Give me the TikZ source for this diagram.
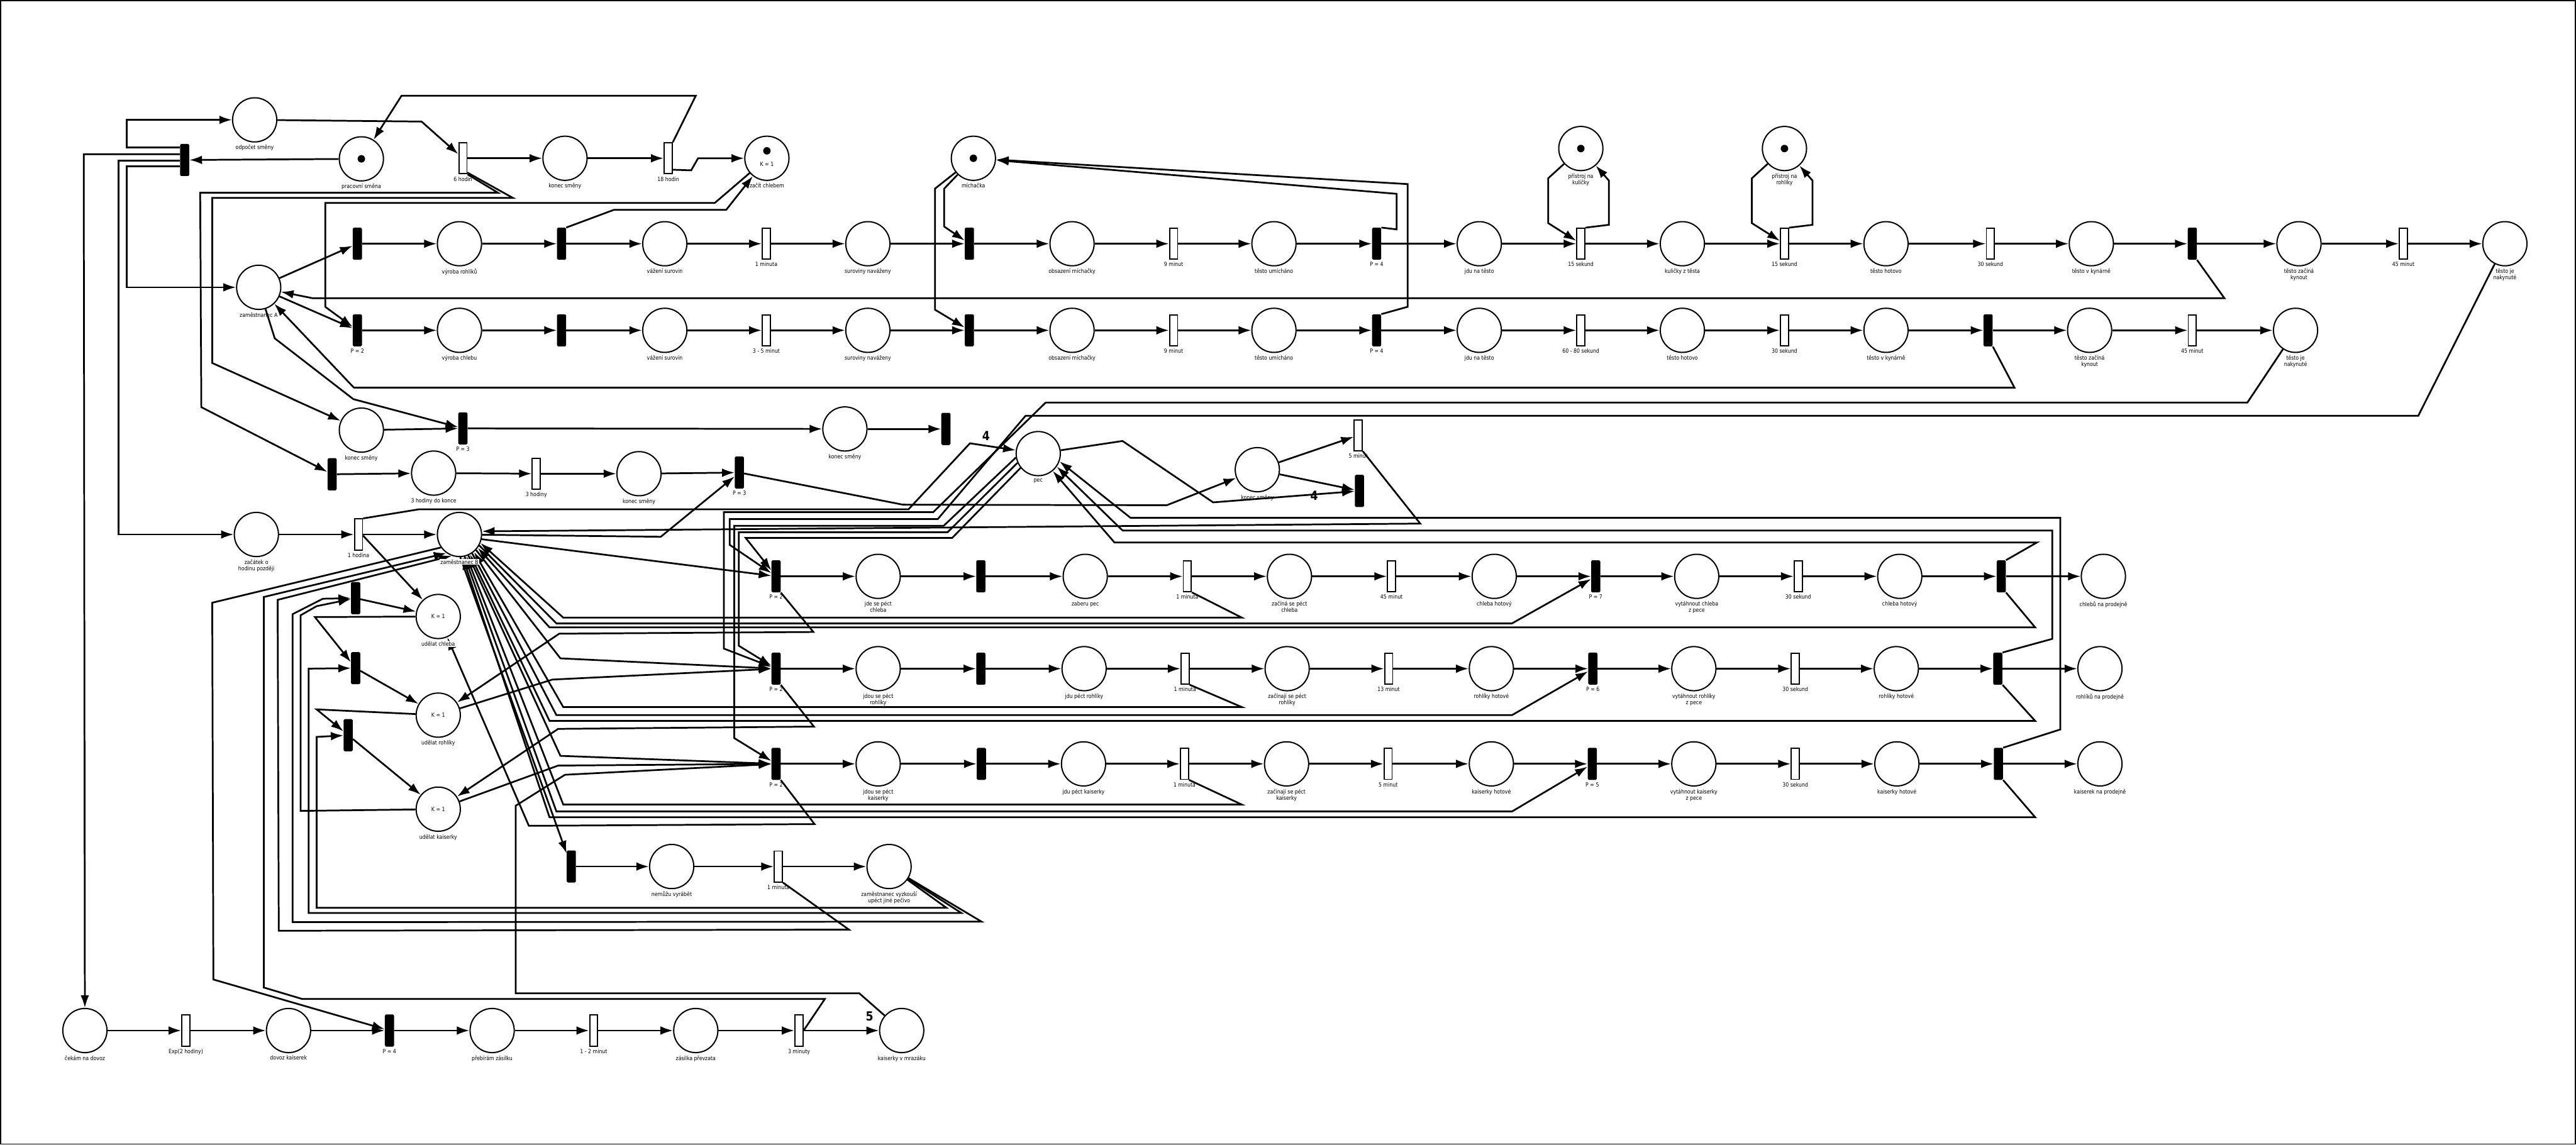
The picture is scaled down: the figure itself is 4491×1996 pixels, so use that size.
\documentclass[tikz,border=0pt]{standalone}
\usepackage{fontspec}
\setmainfont{DejaVu Sans}[FakeStretch=0.86]
\usetikzlibrary{arrows.meta,backgrounds}
\newcommand{\lbl}{\fontsize{10}{11}\selectfont}
\tikzset{
  place/.style={circle,draw,line width=2.2pt,minimum size=77pt,inner sep=0pt,font=\lbl},
  btrans/.style={rectangle,fill=black,minimum width=16pt,minimum height=56pt,inner sep=0pt,rounded corners=2pt},
  ttrans/.style={rectangle,draw,fill=white,line width=2pt,minimum width=14pt,minimum height=54pt,inner sep=0pt},
  arc/.style={line width=3pt,-{Latex[length=22pt,width=15pt]}},
  wire/.style={line width=3pt},
  lab/.style={font=\lbl,align=center,inner sep=1pt,label distance=3pt},
  wlab/.style={lab,fill=white},
  tok/.style={circle,fill=black,minimum size=13pt,inner sep=0pt},
  wt/.style={font=\fontsize{22}{22}\selectfont\bfseries}
}
\newcommand{\pl}[4]{\node[place,label={[lab]below:#4}] (#1) at (#2,#3) {};}
\newcommand{\bt}[4]{\node[btrans,label={[lab]below:#4}] (#1) at (#2,#3) {};}
\newcommand{\tmt}[4]{\node[ttrans,label={[lab]below:#4}] (#1) at (#2,#3) {};}
\begin{document}
\begin{tikzpicture}[x=1pt,y=-1pt]
  \useasboundingbox (0,0) rectangle (4491,1996);
  \draw[line width=2pt] (1,1) rectangle (4490,1995);

  % shift control
  \bt{tStart}{322}{279}{}
  \pl{pOdpocet}{444}{209}{odpočet směny}
  \pl{pPracovni}{630}{277}{pracovní směna}
  \node[tok] at (pPracovni) {};
  \tmt{t6h}{807}{276}{6 hodin}
  \pl{pKonecA}{985}{276}{konec směny}
  \tmt{t18h}{1165}{276}{18 hodin}
  \pl{pZacit}{1337}{276}{začít chlebem}
  \node[tok] at ([yshift=13pt]pZacit.center) {};
  \node[font=\lbl] at ([yshift=-10pt]pZacit.center) {K = 1};
  \pl{pMichacka}{1697}{276}{míchačka}
  \node[tok] at (pMichacka) {};
  \pl{pZamA}{451}{501}{zaměstnanec A}
  \pl{pKulicky}{2756}{259}{přístroj na\\kuličky}
  \node[tok] at (pKulicky) {};
  \pl{pRohlStroj}{3111}{259}{přístroj na\\rohlíky}
  \node[tok] at (pRohlStroj) {};

  % dough for rolls
  \bt{tR1}{623}{425}{}
  \pl{pR1}{801}{425}{výroba rohlíků}
  \bt{tR2}{979}{425}{}
  \pl{pR2}{1159}{425}{vážení surovin}
  \tmt{tR3}{1336}{425}{1 minuta}
  \pl{pR3}{1513}{425}{suroviny naváženy}
  \bt{tR4}{1690}{425}{}
  \pl{pR4}{1869}{425}{obsazení míchačky}
  \tmt{tR5}{2046}{425}{9 minut}
  \pl{pR5}{2221}{425}{těsto umícháno}
  \bt{tR6}{2400}{425}{P = 4}
  \pl{pR6}{2579}{425}{jdu na těsto}
  \tmt{tR7}{2756}{425}{15 sekund}
  \pl{pR7}{2933}{425}{kuličky z těsta}
  \tmt{tR8}{3111}{425}{15 sekund}
  \pl{pR8}{3288}{425}{těsto hotovo}
  \tmt{tR9}{3470}{425}{30 sekund}
  \pl{pR9}{3646}{425}{těsto v kynárně}
  \bt{tR10}{3822}{425}{}
  \pl{pR10}{4008}{425}{těsto začíná\\kynout}
  \tmt{tR11}{4190}{425}{45 minut}
  \pl{pR11}{4367}{425}{těsto je\\nakynuté}

  % dough for bread
  \bt{tC1}{623}{576}{P = 2}
  \pl{pC1}{801}{576}{výroba chlebu}
  \bt{tC2}{979}{576}{}
  \pl{pC2}{1159}{576}{vážení surovin}
  \tmt{tC3}{1336}{576}{3 - 5 minut}
  \pl{pC3}{1513}{576}{suroviny naváženy}
  \bt{tC4}{1690}{576}{}
  \pl{pC4}{1869}{576}{obsazení míchačky}
  \tmt{tC5}{2046}{576}{9 minut}
  \pl{pC5}{2221}{576}{těsto umícháno}
  \bt{tC6}{2400}{576}{P = 4}
  \pl{pC6}{2579}{576}{jdu na těsto}
  \tmt{tC7}{2756}{576}{60 - 80 sekund}
  \pl{pC7}{2933}{576}{těsto hotovo}
  \tmt{tC8}{3111}{576}{30 sekund}
  \pl{pC8}{3288}{576}{těsto v kynárně}
  \bt{tC9}{3466}{576}{}
  \pl{pC9}{3643}{576}{těsto začíná\\kynout}
  \tmt{tC10}{3822}{576}{45 minut}
  \pl{pC10}{4002}{576}{těsto je\\nakynuté}

  \foreach \r/\n in {R/11,C/10} {
    \foreach \i in {1,...,\n} {
      \draw[arc] (t\r\i) -- (p\r\i);
    }
  }
  \foreach \a/\b in {pR1/tR2,pR2/tR3,pR3/tR4,pR4/tR5,pR5/tR6,pR6/tR7,pR7/tR8,
                     pR8/tR9,pR9/tR10,pR10/tR11,
                     pC1/tC2,pC2/tC3,pC3/tC4,pC4/tC5,pC5/tC6,pC6/tC7,pC7/tC8,
                     pC8/tC9,pC9/tC10} {
    \draw[arc] (\a) -- (\b);
  }

  % employee B and shift end
  \pl{pKonecB}{630}{750}{konec směny}
  \bt{tP3a}{807}{747}{P = 3}
  \pl{pKonecB2}{1473}{748}{konec směny}
  \bt{tKonecB2}{1649}{748}{}
  \bt{tB3}{579}{827}{}
  \pl{pB3}{756}{825}{3 hodiny do konce}
  \tmt{tB3h}{935}{826}{3 hodiny}
  \pl{pB3k}{1114}{826}{konec směny}
  \bt{tP3b}{1289}{824}{P = 3}
  \pl{pPec}{1810}{791}{pec}
  \pl{pKonecPec}{2192}{819}{konec směny}
  \tmt{t5min}{2368}{759}{5 minut}
  \bt{tPecEnd}{2370}{856}{}
  \pl{pZacatek}{447}{932}{začátek o\\hodinu později}
  \tmt{t1hod}{625}{932}{1 hodina}
  \node[place,label={[wlab]below:zaměstnanec B}] (pZamB) at (801,932) {};
  \bt{tUdChleb}{620}{1043}{}
  \node[place,label={[wlab]below:udělat chleba}] (pUdChleb) at (764,1075) {K = 1};
  \bt{tUdRohl}{620}{1165}{}
  \node[place,label={[wlab]below:udělat rohlíky}] (pUdRohl) at (764,1247) {K = 1};
  \bt{tUdKais}{607}{1282}{}
  \node[place,label={[wlab]below:udělat kaiserky}] (pUdKais) at (764,1411) {K = 1};

  % baking rows
  \bt{tCh1}{1353}{1005}{P = 2}
  \pl{pCh1}{1531}{1005}{jde se péct\\chleba}
  \bt{tCh2}{1710}{1005}{}
  \pl{pCh2}{1892}{1005}{zaberu pec}
  \tmt{tCh3}{2070}{1005}{1 minuta}
  \pl{pCh3}{2248}{1005}{začíná se péct\\chleba}
  \tmt{tCh4}{2426}{1005}{45 minut}
  \pl{pCh4}{2605}{1005}{chleba hotový}
  \bt{tCh5}{2782}{1005}{P = 7}
  \pl{pCh5}{2958}{1005}{vytáhnout chleba\\z pece}
  \tmt{tCh6}{3135}{1005}{30 sekund}
  \pl{pCh6}{3312}{1005}{chleba hotový}
  \bt{tCh7}{3489}{1005}{}
  \pl{pCh7}{3667}{1005}{chlebů na prodejně}

  \bt{tRo1}{1353}{1166}{P = 2}
  \pl{pRo1}{1531}{1166}{jdou se péct\\rohlíky}
  \bt{tRo2}{1710}{1166}{}
  \pl{pRo2}{1890}{1166}{jdu péct rohlíky}
  \tmt{tRo3}{2066}{1166}{1 minuta}
  \pl{pRo3}{2244}{1166}{začínají se péct\\rohlíky}
  \tmt{tRo4}{2421}{1166}{13 minut}
  \pl{pRo4}{2600}{1166}{rohlíky hotové}
  \bt{tRo5}{2777}{1166}{P = 6}
  \pl{pRo5}{2953}{1166}{vytáhnout rohlíky\\z pece}
  \tmt{tRo6}{3130}{1166}{30 sekund}
  \pl{pRo6}{3306}{1166}{rohlíky hotové}
  \bt{tRo7}{3483}{1166}{}
  \pl{pRo7}{3661}{1166}{rohlíků na prodejně}

  \bt{tKa1}{1353}{1332}{P = 2}
  \pl{pKa1}{1531}{1332}{jdou se péct\\kaiserky}
  \bt{tKa2}{1711}{1332}{}
  \pl{pKa2}{1889}{1332}{jdu péct kaiserky}
  \tmt{tKa3}{2065}{1332}{1 minuta}
  \pl{pKa3}{2243}{1332}{začínají se péct\\kaiserky}
  \tmt{tKa4}{2420}{1332}{5 minut}
  \pl{pKa4}{2600}{1332}{kaiserky hotové}
  \bt{tKa5}{2776}{1332}{P = 5}
  \pl{pKa5}{2953}{1332}{vytáhnout kaiserky\\z pece}
  \tmt{tKa6}{3130}{1332}{30 sekund}
  \pl{pKa6}{3307}{1332}{kaiserky hotové}
  \bt{tKa7}{3484}{1332}{}
  \pl{pKa7}{3661}{1332}{kaiserek na prodejně}

  \foreach \r in {Ch,Ro,Ka} {
    \foreach \i in {1,...,7} {
      \draw[arc] (t\r\i) -- (p\r\i);
    }
    \foreach \i [evaluate=\i as \j using int(\i+1)] in {1,...,6} {
      \draw[arc] (p\r\i) -- (t\r\j);
    }
  }

  % cannot produce
  \bt{tNemuzu}{996}{1511}{}
  \pl{pNemuzu}{1171}{1511}{nemůžu vyrábět}
  \tmt{tNem1}{1357}{1511}{1 minuta}
  \pl{pVyzkousi}{1550}{1511}{zaměstnanec vyzkouší\\upéct jiné pečivo}

  % delivery
  \pl{pCekam}{148}{1797}{čekám na dovoz}
  \tmt{tExp}{324}{1797}{Exp(2 hodiny)}
  \pl{pDovoz}{503}{1797}{dovoz kaiserek}
  \bt{tDov}{679}{1797}{P = 4}
  \pl{pPrebiram}{858}{1797}{přebírám zásilku}
  \tmt{t12min}{1035}{1797}{1 - 2 minut}
  \pl{pZasilka}{1213}{1797}{zásilka převzata}
  \tmt{t3min}{1393}{1797}{3 minuty}
  \pl{pMrazak}{1572}{1797}{kaiserky v mrazáku}

  \foreach \a/\b in {pCekam/tExp,tExp/pDovoz,pDovoz/tDov,tDov/pPrebiram,
                     pPrebiram/t12min,t12min/pZasilka,pZasilka/t3min,t3min/pMrazak,
                     tNemuzu/pNemuzu,pNemuzu/tNem1,tNem1/pVyzkousi,
                     t6h/pKonecA,pKonecA/t18h,pKonecB/tP3a,pKonecB2/tKonecB2,
                     tP3a/pKonecB2,tB3/pB3,pB3/tB3h,tB3h/pB3k,pB3k/tP3b,
                     pZacatek/t1hod,t1hod/pZamB,
                     pKonecPec/t5min,pKonecPec/tPecEnd,pPracovni/tStart,
                     pZamA/tR1,pZamA/tC1,
                     tUdChleb/pUdChleb,tUdRohl/pUdRohl,tUdKais/pUdKais} {
    \draw[arc] (\a) -- (\b);
  }
  \node[wt] at (1516,1772) {5};

  % shift start and end
  \draw[arc] ([yshift=22pt]tStart.west) -- (221,257) -- (221,209) -- (pOdpocet);
  \draw[arc] ([yshift=-11pt]tStart.west) -- (221,290) -- (221,501) -- (pZamA);
  \draw[arc] ([yshift=10pt]tStart.west) -- (146,269) -- (pCekam);
  \draw[arc] ([yshift=-1pt]tStart.west) -- (207,280) -- (207,932) -- (pZacatek);
  \draw[arc] (pOdpocet) -- (735,212) -- (t6h);
  \draw[arc] (t18h.north east) -- (1213,167) -- (700,167) -- (pPracovni);
  \draw[arc] ([yshift=-20pt]t18h.east) -- (1205,297) -- (1217,276) -- (pZacit);
  \draw[arc] (t6h.south east) -- (868,336) -- (349,336) -- (351,710) -- (tB3);
  \draw[arc] ([yshift=-25pt]t6h.east) -- (894,345) -- (370,345) -- (370,633) -- (pKonecB);
  \draw[arc] (pZacit) -- (1246,354) -- (567,354) -- (567,535) -- (tC1);
  \draw[arc] (tR2.north east) -- (1070,366) -- (1266,366) -- (pZacit);
  \draw[arc] (tR10.south east) -- (3878,520) -- (545,520) -- (pZamA);
  \draw[arc] (tC9.south east) -- (3512,676) -- (617,676) -- (pZamA);
  \draw[arc] (pZamA) -- (479,590) -- (616,696) -- (tP3a);
  \draw[arc] (tP3b) -- (1574,880) -- (2034,881) -- (pKonecPec);
  \draw[arc] (pZamB) -- (1152,936) -- (tP3b);

  % mixer and tools
  \draw[arc] (pMichacka) -- (1646,329) -- (1646,395) -- (tR4);
  \draw[arc] (pMichacka) -- (1630,329) -- (1630,540) -- (tC4);
  \draw[arc] (tR6.north east) -- (2435,400) -- (2435,338) -- (pMichacka);
  \draw[arc] (tC6.north east) -- (2454,535) -- (2454,321) -- (pMichacka);
  \foreach \s/\t in {pKulicky/tR7,pRohlStroj/tR8} {
    \draw[arc] (\s) -- ([xshift=-57pt,yshift=-52pt]\s.center) -- ([xshift=-57pt,yshift=-130pt]\s.center) -- (\t);
    \draw[arc] (\t.north east) -- ([xshift=49pt,yshift=-133pt]\s.center) -- ([xshift=49pt,yshift=-56pt]\s.center) -- (\s);
  }

  % oven
  \draw[arc] (t1hod.north east) -- (731,888) -- (1584,888) -- (1691,773) -- (pPec);
  \node[wt] at (1719,760) {4};
  \draw[arc] (pPec) -- (1957,769) -- (2115,876) -- (tPecEnd);
  \node[wt] at (2291,864) {4};
  \draw[arc] (t5min.south east) -- (2476,913) -- (pZamB.8);
  \draw[arc] (pC10) -- (3918,702) -- (1823,702) -- (1627,893) -- (1262,893) -- (1262,1131) -- (tRo1);
  \draw[arc] (pR11) -- (4216,725) -- (1788,725) -- (1635,905) -- (1272,905) -- (1272,950) -- (tCh1);
  \draw[arc] (pPec.190) -- (1645,917) -- (1280,917) -- (1280,1287) -- (tKa1);
  \draw[arc] (pPec.204) -- (1652,928) -- (1288,928) -- (1288,1126) -- (tRo1);
  \draw[arc] (pPec.219) -- (1660,938) -- (1300,938) -- (tCh1);
  \draw[arc] (tCh7.north east) -- (3551,946) -- (1943,946) -- (pPec.-50);
  \draw[arc] (tRo7.north east) -- (3578,1114) -- (3578,925) -- (1957,925) -- (pPec.-35);
  \draw[arc] (tKa7.north east) -- (3592,1272) -- (3592,903) -- (1971,903) -- (pPec.-20);

  \begin{scope}[on background layer]
  % employee B in the baking rows
  \draw[arc] ([yshift=-2pt]t1hod.east) -- (pUdChleb);
  \draw[arc] (pZamB.-12) -- (tCh1);
  \draw[arc] (pZamB.-88) -- (tNemuzu);
  \foreach \r/\ya/\yb/\yc/\aa/\ab/\ac in {Ch/1077/1087/1094/-22/-29/-36,
                                        Ro/1233/1247/1257/-50/-56/-62,
                                        Ka/1403/1415/1425/-72/-77/-82} {
    \draw[arc] (t\r3.south east) -- (2165,\ya) -- (982,\ya) -- (pZamB.\aa);
    \draw[arc] (pZamB.\ab) -- (970,\yb) -- (2636,\yb) -- (t\r5);
    \draw[arc] (t\r7.south east) -- (3548,\yc) -- (958,\yc) -- (pZamB.\ac);
  }
  \draw[arc] (tCh1.south east) -- (1418,1102) -- (975,1105) -- (pUdRohl);
  \draw[arc] (tRo1.south east) -- (1419,1267) -- (973,1271) -- (pUdKais);
  \draw[arc] (tKa1.south east) -- (1420,1437) -- (922,1440) -- (pUdChleb);
  \draw[arc] (pZamB.-43) -- (977,1148) -- (tRo1);
  \draw[arc] (pUdRohl) -- (963,1185) -- (tRo1);
  \draw[arc] (pZamB.-67) -- (977,1318) -- (tKa1);
  \draw[arc] (pUdKais) -- (973,1335) -- (tKa1);
  \draw[arc] (pMrazak) -- (1498,1732) -- (899,1732) -- (899,1405) -- (985,1351) -- (tKa1);

  % choosing the pastry
  \draw[arc] (pUdChleb) -- (549,1076) -- (tUdRohl);
  \draw[arc] (pUdRohl) -- (552,1237) -- (tUdKais);
  \draw[arc] (pUdKais) -- (524,1414) -- (524,1073) -- (552,1057) -- (tUdChleb);
  \draw[arc] (pVyzkousi) -- (1711,1607) -- (510,1608) -- (510,1071) -- (563,1044) -- (tUdChleb);
  \draw[arc] (pVyzkousi) -- (1676,1592) -- (538,1592) -- (538,1166) -- (tUdRohl);
  \draw[arc] (pVyzkousi) -- (1650,1583) -- (552,1583) -- (552,1285) -- (tUdKais);

  % employee B and deliveries
  \draw[arc] (pZamB.215) -- (370,1051) -- (372,1708) -- (tDov);
  \draw[arc] (t3min.east) -- (1438,1742) -- (527,1742) -- (460,1722) -- (460,1041) -- (pZamB.235);
  \draw[arc] (tNem1.south east) -- (1480,1621) -- (486,1623) -- (484,1046) -- (pZamB.250);
  \end{scope}
\end{tikzpicture}
\end{document}
